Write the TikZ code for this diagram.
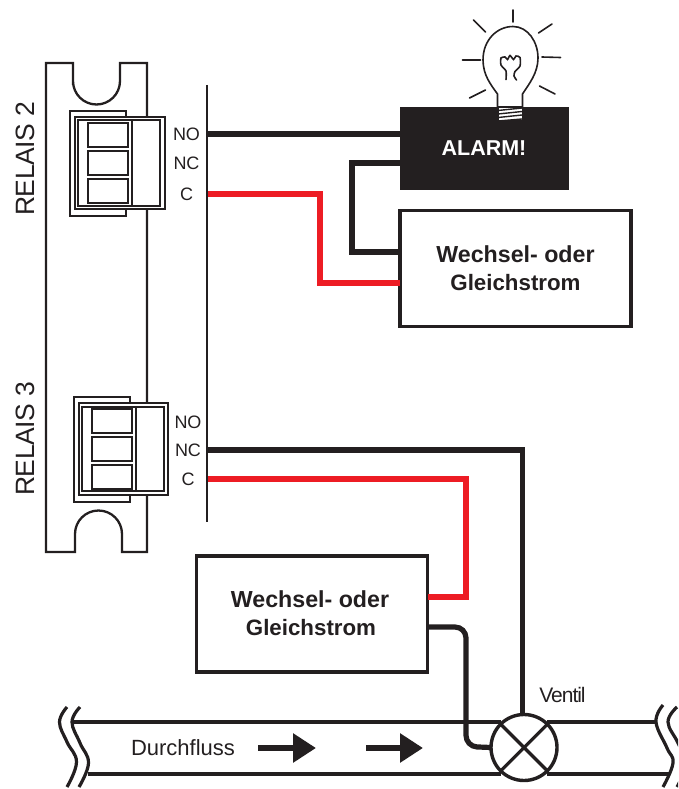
\documentclass[tikz,border=0pt]{standalone}
\usepackage{fontspec}
\setmainfont{Liberation Sans}
\usetikzlibrary{arrows.meta}
\definecolor{ink}{HTML}{231F20}
\definecolor{wirered}{HTML}{ED1C24}
\newcommand{\wosA}{\raisebox{1pt}{\fontsize{23.2}{28}\selectfont Wechsel- oder}}
\newcommand{\wosB}{\raisebox{1pt}{Gleichstrom}}
\tikzset{
  x=1pt,y=-1pt,
  every node/.style={text=ink,inner sep=0pt,outer sep=0pt},
  board/.style={draw=ink,line width=2.3pt,line join=miter},
  bus/.style={draw=ink,line width=2.4pt},
  outerclip/.style={draw=ink,line width=2.4pt},
  middleclip/.style={draw=ink,line width=2.6pt,fill=white},
  innerclip/.style={draw=ink,line width=1.5pt},
  cell/.style={draw=ink,line width=2pt},
  term/.style={font=\fontsize{18}{20}\selectfont},
  relais/.style={font=\fontsize{26.5}{28}\selectfont\addfontfeature{LetterSpace=-1.5},rotate=90},
  supply/.style={draw=ink,line width=3.5pt,fill=white,minimum width=231pt,minimum height=116pt,align=center,font=\bfseries\fontsize{22.3}{28}\selectfont},
  alarmbox/.style={draw=ink,fill=ink,line width=0pt,minimum width=168pt,minimum height=81pt,text=white,font=\bfseries\fontsize{21.5}{24}\selectfont},
  blackwire/.style={draw=ink,line width=5.2pt,line join=miter},
  redwire/.style={draw=wirered,line width=5.2pt,line join=miter},
  pipe/.style={draw=ink,line width=3.6pt},
  wave/.style={draw=ink,line width=3.2pt,smooth,tension=0.7,line cap=butt},
  valvesym/.style={circle,draw=ink,line width=3.4pt,fill=white,minimum size=66pt},
  valvecross/.style={draw=ink,line width=3.2pt},
  flowarrow/.style={draw=ink,line width=6.5pt,-{Triangle[length=23pt,width=28pt]}},
  bulbline/.style={draw=ink,line width=1.6pt,line cap=round},
}
\begin{document}
\begin{tikzpicture}
\clip (0,0) rectangle (678,789);
% board
\draw[board] (73,85) -- (73,63) -- (46,63) -- (46,552) -- (75,552) -- (75,534)
  arc[start angle=180,end angle=0,x radius=23.5,y radius=-23.5] -- (122,552) -- (147,552) -- (147,63) -- (120,63) -- (120,81)
  arc[start angle=0,end angle=180,x radius=23.5,y radius=23.5] -- cycle;
% relay 2
\draw[outerclip,fill=white] (126,117) -- (126,111) -- (70,111) -- (70,216) -- (126,216) -- (126,209);
\draw[middleclip] (75,117) rectangle (165,209);
\draw[innerclip] (78,120) rectangle (160,206);
\draw[innerclip] (132,120) -- (132,206);
\draw[cell] (88,123) rectangle (128,147);
\draw[cell] (88,151) rectangle (128,175);
\draw[cell] (88,179) rectangle (128,203);
% relay 3
\draw[outerclip,fill=white] (130,403) -- (130,397) -- (74,397) -- (74,502) -- (130,502) -- (130,495);
\draw[middleclip] (79,403) rectangle (168,495);
\draw[innerclip] (82,407) rectangle (164,491);
\draw[innerclip] (136,407) -- (136,491);
\draw[cell] (92,409) rectangle (132,433);
\draw[cell] (92,437) rectangle (132,461);
\draw[cell] (92,465) rectangle (132,489);
% labels
\node[relais] (rel2) at (25,159) {RELAIS 2};
\node[relais] (rel3) at (25,439) {RELAIS 3};
\node[term] (tno2) at (186.5,134) {NO};
\node[term] (tnc2) at (186.5,163.5) {NC};
\node[term] (tc2)  at (186.5,194) {C};
\node[term] (tno3) at (188,422) {NO};
\node[term] (tnc3) at (188,450) {NC};
\node[term] (tc3)  at (188,479) {C};
% bus
\coordinate (bustop) at (207,85);
\coordinate (busbot) at (207,522);
\draw[bus] (bustop) -- (busbot);
\coordinate (no2) at (207,134);
\coordinate (c2) at (208,194);
\coordinate (nc3) at (207,450);
\coordinate (c3) at (208,479);
% bulb
\draw[bulbline,fill=white] (497.5,107) -- (497.5,94) .. controls (491,85) and (483,75) .. (483,60)
  .. controls (483,40) and (497,26.5) .. (513,26.5) .. controls (528,26.5) and (538,42) .. (538,58)
  .. controls (538,73) and (529,84) .. (522.5,94) -- (522.5,107);
\draw[bulbline,fill=white] (497.5,107) -- (522.5,107) -- (522.5,121) -- (497.5,121) -- cycle;
\draw[bulbline] (513,10) -- (513,22);
\draw[bulbline] (473.5,20) -- (485.5,32);
\draw[bulbline] (552,24) -- (538.5,33);
\draw[bulbline] (542,57) -- (560.5,57.5);
\draw[bulbline] (462.5,60) -- (480.5,60);
\draw[bulbline] (469.5,98) -- (485.5,90);
\draw[bulbline] (539.5,86) -- (555,94);
\draw[bulbline,smooth,tension=0.4] plot coordinates {(506,79.5) (506,71) (501,65) (501,58) (505,57) (507.5,59.5) (510,55.5) (513.5,59.5) (516,56) (520,57.5) (520,66) (515,71.5) (514,76) (516.5,80)};
% boxes
\node[alarmbox] (alarm) at (484,148.5) {\raisebox{-1pt}{ALARM!}};
\fill[white] (498.5,108) rectangle (521.5,120);
\draw[bulbline,line width=2pt] (497.5,108) -- (497.5,120) (522.5,108) -- (522.5,120);
\draw[bulbline,line width=1.4pt] (498,110.5) -- (522,108) (498,114) -- (522,111.5) (498,117.5) -- (522,115) (498,121) -- (522,119);
\draw[bulbline,line width=1.6pt] (499,122.5) -- (521,122.5);
\node[supply] (sup1) at (515.5,268.5) {\wosA\\\wosB};
\node[supply] (sup2) at (312,614) {\hspace{-4pt}\wosA\\\hspace{-2pt}\wosB};
% pipe and valve
\node[valvesym] (valve) at (524,747.5) {};
\coordinate (ptl) at (73,722);
\coordinate (pbl) at (88,774);
\coordinate (ptr) at (656,722);
\coordinate (pbr) at (670,774);
\draw[pipe] (ptl) -- (valve.north west |- ptl) (valve.north east |- ptr) -- (ptr);
\draw[pipe] (pbl) -- (valve.south west |- pbl) (valve.south east |- pbr) -- (pbr);
\draw[valvecross] (valve.45) -- (valve.225) (valve.135) -- (valve.315);
\draw[wave] plot coordinates {(67,707) (59.5,722) (67,742) (76.5,762) (67,787)};
\draw[wave] plot coordinates {(80,707) (72,722) (80,743) (88.5,763) (79,787)};
\draw[wave] plot coordinates {(663,705) (656,722) (667,748) (673,763) (663,787)};
\draw[wave] plot coordinates {(677,707) (668,722) (678,743) (686,763) (677,787)};
\node[font=\fontsize{22}{24}\selectfont] (flowlabel) at (183,748) {Durchfluss};
\coordinate (f1a) at (258,748);
\coordinate (f1b) at (316,748);
\coordinate (f2a) at (366,748);
\coordinate (f2b) at (423,748);
\draw[flowarrow] (f1a) -- (f1b);
\draw[flowarrow] (f2a) -- (f2b);
\node[font=\fontsize{21}{22}\selectfont\addfontfeature{LetterSpace=-5}] (ventil) at (562.5,695) {Ventil};
% wires
\draw[blackwire] (no2) -- (no2 -| alarm.west);
\coordinate (a1) at (alarm.west |- 0,163);
\coordinate (s1b) at (sup1.west |- 0,252);
\coordinate (s1r) at (sup1.west |- 0,283);
\draw[blackwire] (a1) -- (352,163) -- (352,252) -- (s1b);
\draw[redwire] (c2) -- (320,194) -- (320,283) -- (s1r);
\coordinate (s2r) at (sup2.east |- 0,597);
\coordinate (s2b) at (sup2.east |- 0,627);
\coordinate (vtop) at ([xshift=-1.5pt]valve.north);
\draw[blackwire] (nc3) -- (nc3 -| vtop) -- (vtop);
\draw[redwire] (c3) -- (466,479) -- (466,597) -- (s2r);
\draw[blackwire,rounded corners=11pt] (s2b) -- (466,627) -- (466,746.5) -- (valve.west);
\end{tikzpicture}
\end{document}
